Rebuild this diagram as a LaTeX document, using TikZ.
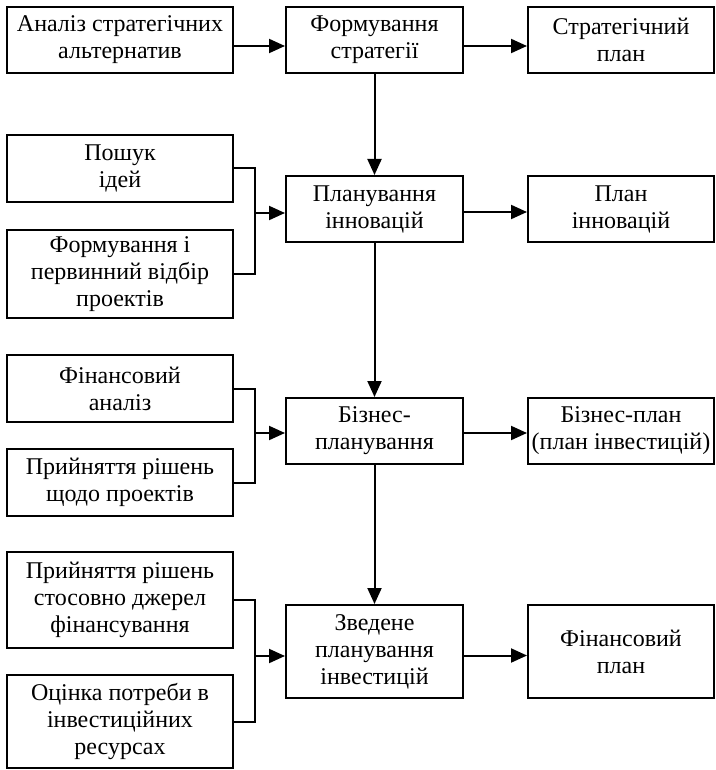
\documentclass[tikz,border=0pt]{standalone}
\usepackage{fontspec}
\setmainfont{Liberation Serif}
\usetikzlibrary{arrows.meta}

\begin{document}
\begin{tikzpicture}[x=1pt, y=-1pt,
    box/.style={draw, rectangle, line width=2pt, align=center, inner sep=2pt,
      font=\fontsize{24}{27}\selectfont},
    lnk/.style={line width=2pt},
    arr/.style={lnk, -{Triangle[length=16pt, width=14pt]}}]
    \useasboundingbox (0,0) rectangle (715,770);

    % стратегія
    \node[box, minimum width=226pt, minimum height=66pt] (alt) at (120,40) {Аналіз стратегічних\\альтернатив};
    \node[box, minimum width=177pt, minimum height=66pt] (strat) at (374.5,40) {Формування\\стратегії};
    \node[box, minimum width=186pt, minimum height=66pt] (splan) at (621,40) {Стратегічний\\план};

    % інновації
    \node[box, minimum width=226pt, minimum height=67pt] (idea) at (120,168.5) {Пошук\\ідей};
    \node[box, minimum width=226pt, minimum height=88pt] (select) at (120,274) {Формування і\\первинний відбір\\проектів};
    \node[box, minimum width=177pt, minimum height=66pt] (innov) at (374.5,209) {Планування\\інновацій};
    \node[box, minimum width=186pt, minimum height=66pt] (iplan) at (621,209) {План\\інновацій};

    % бізнес-планування
    \node[box, minimum width=226pt, minimum height=67pt] (fin) at (120,388.5) {Фінансовий\\аналіз};
    \node[box, minimum width=226pt, minimum height=67pt] (decide) at (120,482.5) {Прийняття рішень\\щодо проектів};
    \node[box, minimum width=177pt, minimum height=66pt] (biz) at (374.5,431) {Бізнес-\\планування};
    \node[box, minimum width=186pt, minimum height=66pt] (bplan) at (621,431) {Бізнес-план\\(план інвестицій)};

    % зведене планування
    \node[box, minimum width=226pt, minimum height=96pt] (src) at (120,600) {Прийняття рішень\\стосовно джерел\\фінансування};
    \node[box, minimum width=226pt, minimum height=93pt] (need) at (120,721.5) {Оцінка потреби в\\інвестиційних\\ресурсах};
    \node[box, minimum width=177pt, minimum height=93pt] (summ) at (374.5,651.5) {Зведене\\планування\\інвестицій};
    \node[box, minimum width=186pt, minimum height=93pt] (fplan) at (621,651.5) {Фінансовий\\план};

    % точки злиття
    \coordinate (j1) at (255,213);
    \coordinate (j2) at (255,433);
    \coordinate (j3) at (255,656);

    % горизонтальні стрілки
    \draw[arr] ([yshift=-6pt]alt.east) -- ([yshift=-6pt]strat.west);
    \draw[arr] ([yshift=-6pt]strat.east) -- ([yshift=-6pt]splan.west);
    \draw[arr] ([yshift=-3pt]innov.east) -- ([yshift=-3pt]iplan.west);
    \draw[arr] ([yshift=-2pt]biz.east) -- ([yshift=-2pt]bplan.west);
    \draw[arr] ([yshift=-4pt]summ.east) -- ([yshift=-4pt]fplan.west);

    % вертикальні стрілки
    \draw[arr] (strat.south) -- (innov.north);
    \draw[arr] (innov.south) -- (biz.north);
    \draw[arr] (biz.south) -- (summ.north);

    % входи
    \draw[lnk] (idea.east) -| (j1);
    \draw[lnk] (select.east) -| (j1);
    \draw[arr] (j1) -- (j1 -| innov.west);
    \draw[lnk] (fin.east) -| (j2);
    \draw[lnk] (decide.east) -| (j2);
    \draw[arr] (j2) -- (j2 -| biz.west);
    \draw[lnk] (src.east) -| (j3);
    \draw[lnk] (need.east) -| (j3);
    \draw[arr] (j3) -- (j3 -| summ.west);
\end{tikzpicture}
\end{document}
